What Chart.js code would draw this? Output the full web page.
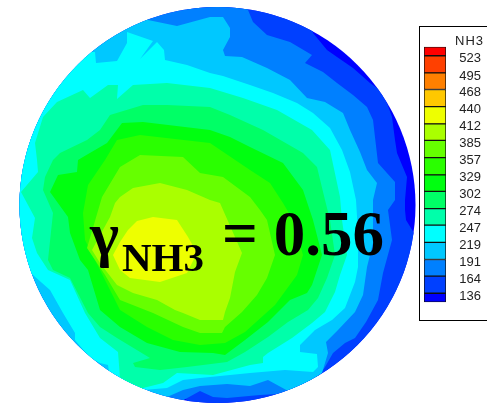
<!DOCTYPE html>
<html lang="en">
<head>
    <meta charset="UTF-8">
    <title>NH3 contour</title>
    <script src="https://cdn.jsdelivr.net/npm/chart.js"></script>
    <style>
        body { margin: 0; background: #fff; width: 487px; height: 403px; overflow: hidden; position: relative; }
        canvas { position: absolute; }
        #contour { left: 0; top: 0; }
        #legendBox { position: absolute; left: 419px; top: 26px; width: 68px; height: 295px; border: 1px solid #000; border-right: none; box-sizing: border-box; }
        #legendBar { left: 424px; top: 39px; }
        #legendTitle { position: absolute; left: 455px; top: 33px; font: 13px "Liberation Sans"; letter-spacing: 1px; line-height: 15px; color: #222; }
        .note { position: absolute; font-family: "Liberation Serif"; font-weight: bold; color: #000; line-height: 1; white-space: nowrap; }
    </style>
</head>
<body>
    <canvas id="contour" width="487" height="403"></canvas>
    <div id="legendBox"></div>
    <canvas id="legendBar" width="57" height="271"></canvas>
    <div id="legendTitle">NH3</div>
    <div class="note" style="left:90px;top:203px;font-size:62px">γ</div>
    <div class="note" style="left:122px;top:237px;font-size:41px">NH3</div>
    <div class="note" style="left:222px;top:203px;font-size:63px">= 0.56</div>
    <script>
        // contour levels, low to high
        const levels = [136, 164, 191, 219, 247, 274, 302, 329, 357, 385, 412, 440, 468, 495, 523];
        const bandEdges = [121.4, 136, 164, 191, 219, 247, 274, 302, 329, 357, 385, 412, 440, 468, 495, 523, 537.6];
        const bandColors = ['#0000ff', '#0040ff', '#0080ff', '#00c8ff', '#00ffff', '#00ffaa', '#00ff66', '#00ff10',
            '#2aff00', '#66ff00', '#aaff00', '#eeff00', '#ffc800', '#ff8000', '#ff4000', '#ff0000'];

        // outlines of the region above each level
        const below136 = [[0, 0], [487, 0], [487, 403], [0, 403]];
        const above136 = [[313, -10], [313, 33], [327, 50], [337, 57], [353, 68], [370, 83], [380, 90], [387, 103], [392, 117], [395, 140], [397, 153], [407, 177], [405, 200], [405, 210], [406, 220], [414, 233], [425, 250], [440, 300], [420, 430], [217, 430], [-10, 205], [217, -20]];
        const above164 = [[248, -10], [248, 10], [253, 22], [267, 35], [290, 42], [312, 55], [305, 63], [323, 72], [337, 83], [353, 95], [367, 107], [373, 120], [378, 163], [395, 182], [395, 200], [388, 210], [392, 240], [383, 273], [378, 300], [366, 322], [355, 338], [345, 343], [333, 353], [325, 367], [318, 377], [320, 400], [280, 400], [277, 394], [260, 395], [227, 398], [213, 397], [200, 391], [180, 402], [175, 420], [-10, 420], [-10, -10]];
        const above191 = [[148, -10], [148, 20], [177, 26], [210, 17], [223, 17], [230, 28], [230, 37], [223, 50], [225, 56], [242, 57], [267, 68], [290, 80], [307, 98], [325, 102], [343, 113], [350, 130], [360, 152], [367, 170], [377, 183], [373, 200], [373, 220], [373, 243], [367, 267], [363, 295], [355, 312], [338, 330], [326, 342], [328, 353], [322, 373], [308, 382], [300, 392], [290, 392], [268, 380], [250, 386], [227, 384], [200, 386], [183, 390], [167, 397], [165, 420], [-10, 420], [-10, -10]];
        const above219 = [[-10, 52], [95, 52], [96, 63], [117, 61], [127, 43], [127, 32], [153, 41], [140, 59], [157, 42], [164, 50], [165, 60], [187, 65], [210, 73], [223, 76], [250, 85], [273, 93], [297, 103], [313, 113], [330, 128], [342, 150], [350, 172], [356, 200], [358, 233], [358, 267], [355, 282], [345, 308], [332, 320], [315, 330], [300, 345], [300, 352], [317, 354], [318, 367], [313, 372], [285, 370], [250, 373], [200, 378], [183, 380], [167, 388], [143, 390], [143, 400], [110, 400], [109, 372], [108, 365], [100, 363], [90, 358], [75, 340], [75, 333], [63, 313], [50, 290], [33, 275], [25, 270], [-10, 270]];
        const above247 = [[21, 192], [38, 172], [37, 160], [35, 143], [43, 117], [57, 102], [83, 90], [90, 98], [108, 85], [118, 85], [117, 99], [133, 85], [167, 83], [210, 88], [243, 98], [277, 110], [312, 130], [330, 150], [340, 197], [342, 220], [347, 255], [340, 275], [335, 292], [325, 312], [312, 323], [292, 338], [268, 353], [263, 357], [263, 363], [250, 365], [213, 375], [177, 373], [163, 383], [143, 388], [143, 400], [120, 400], [120, 378], [118, 352], [100, 338], [85, 313], [70, 280], [48, 270], [37, 253], [32, 238], [35, 218]];
        const above274 = [[210, 107], [167, 105], [143, 105], [110, 115], [100, 130], [87, 140], [60, 153], [53, 160], [45, 177], [43, 190], [53, 213], [48, 260], [53, 270], [70, 278], [88, 313], [100, 327], [117, 338], [150, 358], [133, 363], [135, 367], [160, 370], [187, 367], [227, 362], [245, 352], [268, 337], [288, 322], [308, 310], [318, 298], [327, 278], [335, 255], [330, 220], [325, 200], [317, 167], [303, 153], [263, 130], [230, 115]];
        const above302 = [[50, 192], [58, 175], [77, 172], [78, 160], [83, 157], [107, 143], [122, 123], [143, 122], [210, 130], [230, 137], [250, 147], [283, 163], [303, 190], [313, 220], [322, 255], [312, 285], [307, 293], [290, 300], [268, 322], [245, 340], [225, 355], [213, 353], [180, 352], [147, 343], [120, 327], [100, 310], [88, 270], [80, 260], [70, 233], [68, 217]];
        const above329 = [[105, 160], [117, 140], [140, 135], [210, 143], [250, 170], [270, 183], [283, 203], [293, 220], [303, 255], [297, 275], [275, 305], [245, 332], [225, 343], [200, 345], [173, 340], [147, 327], [120, 310], [100, 270], [85, 240], [83, 213], [88, 185]];
        const above357 = [[120, 167], [140, 155], [183, 157], [200, 173], [223, 177], [250, 197], [260, 210], [267, 220], [275, 255], [267, 278], [257, 295], [242, 312], [225, 327], [222, 333], [200, 333], [183, 327], [153, 313], [120, 300], [105, 275], [87, 248], [102, 197]];
        const above385 = [[120, 197], [133, 188], [160, 183], [187, 190], [210, 200], [220, 203], [242, 253], [235, 272], [230, 298], [225, 312], [223, 320], [200, 320], [183, 313], [175, 310], [157, 300], [133, 293], [117, 285], [100, 263], [92, 250], [110, 217], [115, 203]];
        const above412 = [[128, 230], [137, 221], [153, 217], [177, 220], [188, 237], [197, 253], [187, 273], [160, 282], [130, 278], [120, 270], [113, 255], [120, 242]];

        const contours = [below136, above136, above164, above191, above219, above247, above274, above302, above329, above357, above385, above412];

        // the plot is only drawn inside the disc
        const discClip = {
            id: 'discClip',
            beforeDatasetsDraw(chart) {
                const cx = chart.scales.x.getPixelForValue(217.5);
                const cy = chart.scales.y.getPixelForValue(205);
                const r = chart.scales.x.getPixelForValue(198) - chart.scales.x.getPixelForValue(0);
                chart.ctx.save();
                chart.ctx.beginPath();
                chart.ctx.arc(cx, cy, r, 0, Math.PI * 2);
                chart.ctx.clip();
            },
            afterDatasetsDraw(chart) {
                chart.ctx.restore();
            }
        };

        new Chart(document.getElementById('contour'), {
            type: 'scatter',
            data: {
                datasets: contours.map((outline, i) => ({
                    data: outline.map(p => ({ x: p[0], y: p[1] })),
                    showLine: true,
                    fill: 'shape',
                    backgroundColor: bandColors[i],
                    borderWidth: 0,
                    pointRadius: 0,
                    tension: 0,
                    order: contours.length - i
                }))
            },
            options: {
                responsive: false,
                animation: false,
                layout: { padding: 0 },
                plugins: { legend: { display: false }, tooltip: { enabled: false } },
                scales: {
                    x: { display: false, min: 0, max: 487 },
                    y: { display: false, min: 0, max: 403, reverse: true }
                }
            },
            plugins: [discClip]
        });

        new Chart(document.getElementById('legendBar'), {
            type: 'bar',
            data: {
                labels: ['NH3'],
                datasets: bandColors.map((color, i) => ({
                    data: [[bandEdges[i], bandEdges[i + 1]]],
                    backgroundColor: color,
                    borderColor: '#111',
                    borderWidth: 1,
                    borderSkipped: false,
                    grouped: false,
                    barPercentage: 1,
                    categoryPercentage: 1
                }))
            },
            options: {
                responsive: false,
                animation: false,
                layout: { padding: 0 },
                plugins: { legend: { display: false }, tooltip: { enabled: false } },
                scales: {
                    x: { display: false },
                    y: {
                        position: 'right',
                        min: 121.4,
                        max: 537.6,
                        grid: { display: false },
                        border: { display: false },
                        afterBuildTicks: axis => { axis.ticks = levels.map(v => ({ value: v })); },
                        afterFit: axis => { axis.width = 35; },
                        ticks: {
                            autoSkip: false,
                            crossAlign: 'far',
                            padding: 0,
                            labelOffset: 3,
                            color: '#222',
                            font: { family: 'Liberation Sans', size: 13 }
                        }
                    }
                }
            }
        });
    </script>
</body>
</html>
